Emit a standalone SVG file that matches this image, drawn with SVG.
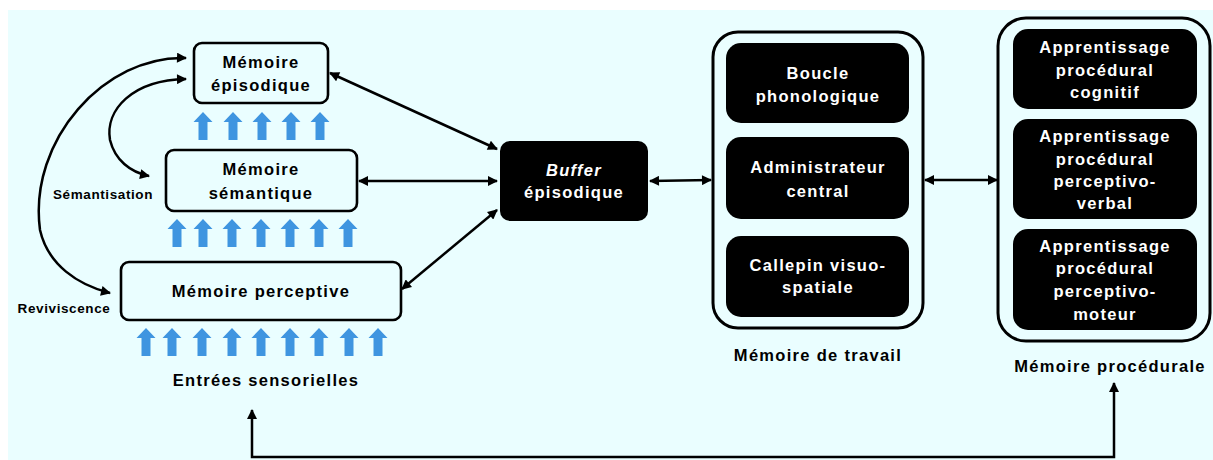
<svg xmlns="http://www.w3.org/2000/svg" width="1213" height="460" viewBox="0 0 1213 460">
<style>
.bg{fill:#EAFEFF}
.box{fill:#EAFEFF;stroke:#000;stroke-width:2.6}
.outer{fill:#EAFEFF;stroke:#000;stroke-width:3}
.dark{fill:#000}
.t{font-family:"Liberation Sans",Arial,sans-serif;font-weight:bold;font-size:16.5px;letter-spacing:1.3px;text-anchor:middle;fill:#000}
.w{fill:#fff}
.s{font-size:13.5px;letter-spacing:0.6px}
.con{fill:none;stroke:#000;stroke-width:2.5}
.blue{fill:#3F95E0}
</style>
<defs>
<marker id="ah" viewBox="0 0 10 10" refX="9" refY="5" markerWidth="11" markerHeight="10" markerUnits="userSpaceOnUse" orient="auto-start-reverse">
<path d="M0,0 L10,5 L0,10 Z" fill="#000"/>
</marker>
<path id="ba" d="M0,0 L9.5,10 L4.5,10 L4.5,28 L-4.5,28 L-4.5,10 L-9.5,10 Z"/>
</defs>
<rect class="bg" x="8" y="10" width="1205" height="450"/>

<g id="blue-arrows" class="blue">
<use href="#ba" x="203" y="112"/><use href="#ba" x="233" y="112"/><use href="#ba" x="262" y="112"/><use href="#ba" x="291" y="112"/><use href="#ba" x="320" y="112"/>
<use href="#ba" x="177" y="219"/><use href="#ba" x="203" y="219"/><use href="#ba" x="232" y="219"/><use href="#ba" x="261" y="219"/><use href="#ba" x="290" y="219"/><use href="#ba" x="319" y="219"/><use href="#ba" x="348" y="219"/>
<use href="#ba" x="146" y="328"/><use href="#ba" x="172" y="328"/><use href="#ba" x="202" y="328"/><use href="#ba" x="232" y="328"/><use href="#ba" x="261" y="328"/><use href="#ba" x="290" y="328"/><use href="#ba" x="319" y="328"/><use href="#ba" x="349" y="328"/><use href="#ba" x="378" y="328"/>
</g>

<g id="connectors" class="con">
<path d="M186,58 C105,55 28,140 40,230 C48,265 78,285 110,293" marker-start="url(#ah)" marker-end="url(#ah)"/>
<path d="M186,79 C132,80 105,110 110,140 C115,160 130,172 149,176" marker-start="url(#ah)" marker-end="url(#ah)"/>
<path d="M330,73 L497,149" marker-start="url(#ah)" marker-end="url(#ah)"/>
<path d="M359,181 L497,181" marker-start="url(#ah)" marker-end="url(#ah)"/>
<path d="M402,289 L497,210" marker-start="url(#ah)" marker-end="url(#ah)"/>
<path d="M650,181 L711,180" marker-start="url(#ah)" marker-end="url(#ah)"/>
<path d="M925,180 L997,180" marker-start="url(#ah)" marker-end="url(#ah)"/>
<path d="M252,410 L252,457 L1114,457 L1114,383" marker-start="url(#ah)" marker-end="url(#ah)"/>
</g>

<g id="memoire-episodique">
<rect class="box" x="194" y="43" width="134" height="60" rx="8"/>
<text class="t" x="261" y="68">Mémoire</text>
<text class="t" x="261" y="91">épisodique</text>
</g>
<g id="memoire-semantique">
<rect class="box" x="166" y="150" width="191" height="61" rx="8"/>
<text class="t" x="261" y="175">Mémoire</text>
<text class="t" x="261" y="199">sémantique</text>
</g>
<g id="memoire-perceptive">
<rect class="box" x="121" y="262" width="280" height="58" rx="8"/>
<text class="t" x="261" y="297">Mémoire perceptive</text>
</g>
<g id="label-semantisation"><text class="t s" x="103" y="199">Sémantisation</text></g>
<g id="label-reviviscence"><text class="t s" x="64" y="313">Reviviscence</text></g>
<g id="label-entrees"><text class="t" x="266" y="386">Entrées sensorielles</text></g>

<g id="buffer-episodique">
<rect class="dark" x="500" y="141" width="148" height="80" rx="10"/>
<text class="t w" x="574" y="176"><tspan font-style="italic">Buffer</tspan></text>
<text class="t w" x="574" y="198">épisodique</text>
</g>

<g id="memoire-de-travail">
<rect class="outer" x="713" y="32" width="210" height="296" rx="25"/>
<rect class="dark" x="726" y="43" width="183" height="80" rx="15"/>
<text class="t w" x="818" y="79">Boucle</text>
<text class="t w" x="818" y="102">phonologique</text>
<rect class="dark" x="726" y="137" width="183" height="82" rx="15"/>
<text class="t w" x="818" y="173">Administrateur</text>
<text class="t w" x="818" y="197">central</text>
<rect class="dark" x="726" y="236" width="183" height="81" rx="15"/>
<text class="t w" x="818" y="271">Callepin visuo-</text>
<text class="t w" x="818" y="293">spatiale</text>
<text class="t" x="818" y="361">Mémoire de travail</text>
</g>

<g id="memoire-procedurale">
<rect class="outer" x="998" y="18" width="212" height="323" rx="28"/>
<rect class="dark" x="1013" y="29" width="184" height="80" rx="15"/>
<text class="t w" x="1105" y="53">Apprentissage</text>
<text class="t w" x="1105" y="76">procédural</text>
<text class="t w" x="1105" y="98">cognitif</text>
<rect class="dark" x="1013" y="119" width="184" height="100" rx="15"/>
<text class="t w" x="1105" y="142">Apprentissage</text>
<text class="t w" x="1105" y="165">procédural</text>
<text class="t w" x="1105" y="187">perceptivo-</text>
<text class="t w" x="1105" y="209">verbal</text>
<rect class="dark" x="1013" y="229" width="184" height="101" rx="15"/>
<text class="t w" x="1105" y="252">Apprentissage</text>
<text class="t w" x="1105" y="274">procédural</text>
<text class="t w" x="1105" y="297">perceptivo-</text>
<text class="t w" x="1105" y="320">moteur</text>
<text class="t" x="1110" y="372">Mémoire procédurale</text>
</g>
</svg>
